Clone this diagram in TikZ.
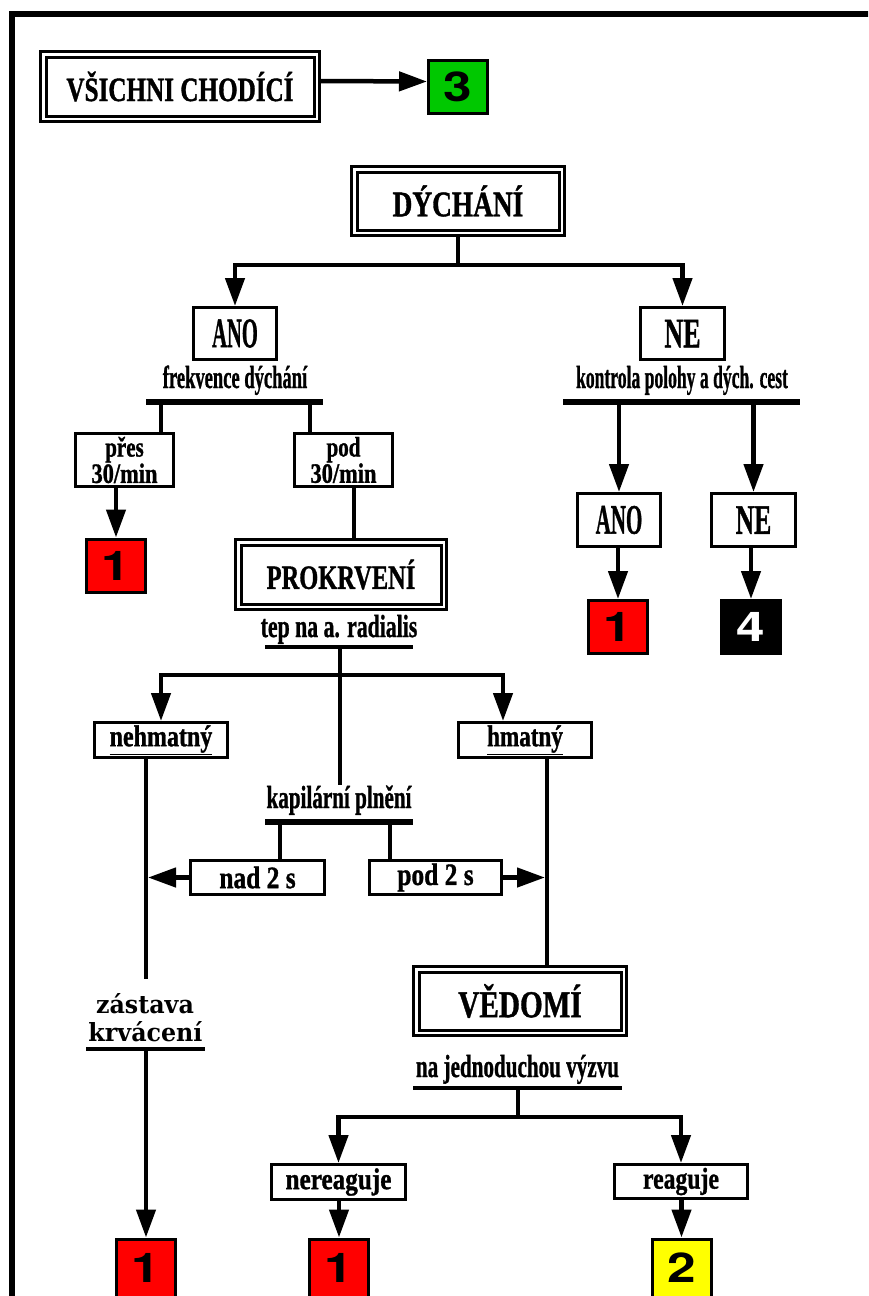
\documentclass[tikz,border=0pt]{standalone}
\usepackage{fontspec}
\setmainfont{Liberation Serif}[BoldFeatures={FakeBold=1.2}]
\newfontfamily\cislafont{TeX Gyre Heros}
\newfontfamily\widefont{DejaVu Serif}
\usetikzlibrary{arrows.meta}

\newcommand{\sq}[2]{\scalebox{#1}[1]{#2}}
\definecolor{zelena}{RGB}{0,200,0}
\definecolor{cervena}{RGB}{255,0,0}
\definecolor{zluta}{RGB}{255,255,0}

\tikzset{
  con/.style={line width=4.5pt},
  arr/.style={con,-{Triangle[length=28pt,width=19pt]}},
  bar/.style={line width=6pt},
  uline/.style={line width=4pt},
  dbox/.style={draw,line width=3pt,double distance=2.5pt,fill=white,inner sep=0pt,outer sep=4.25pt},
  box/.style={draw,line width=3pt,fill=white,inner sep=0pt},
  num/.style={draw,line width=3pt,fill=#1,inner sep=0pt,minimum width=59pt,minimum height=53pt,
    font=\cislafont\bfseries\fontsize{41}{41}\selectfont},
  lbl/.style={inner sep=0pt,font=\bfseries\fontsize{32}{34}\selectfont}
}

\begin{document}
\begin{tikzpicture}[x=1pt,y=-1pt]
\clip (0,0) rectangle (868,1296);
\fill[white] (0,0) rectangle (868,1296);
\draw[line width=6pt] (12,13.5) rectangle (930,1360);

% vsichni chodici
\node[dbox,minimum width=273.5pt,minimum height=64.5pt,font=\bfseries\fontsize{34}{36}\selectfont] (vsichni) at (180,86.5) {\sq{0.74}{VŠICHNI CHODÍCÍ}};
\node[num=zelena] (tri) at (458,87) {\sq{1.25}{3}};
\draw[arr] ([yshift=5.5pt]vsichni.east) -- ([yshift=5.5pt]tri.west);

% dychani
\node[dbox,minimum width=207.5pt,minimum height=63.5pt,font=\bfseries\fontsize{36}{38}\selectfont] (dych) at (458,201) {\sq{0.76}{DÝCHÁNÍ}};
\coordinate (rozc) at (458,265);
\node[box,minimum width=83pt,minimum height=52pt,font=\bfseries\fontsize{42}{44}\selectfont] (ano) at (235,333.5) {\sq{0.49}{ANO}};
\node[box,minimum width=84pt,minimum height=52pt,font=\bfseries\fontsize{42}{44}\selectfont] (ne) at (682.5,333.5) {\sq{0.62}{NE}};
\draw[con] (dych.south) -- (rozc);
\draw[arr] (rozc) -| (ano.north);
\draw[arr] (rozc) -| (ne.north);

% ano - frekvence
\node[lbl,anchor=base] (frekv) at (235,388) {\sq{0.58}{frekvence dýchání}};
\coordinate (f1) at (146,402);
\coordinate (f2) at (323,402);
\coordinate (fa) at (161,402);
\coordinate (fb) at (310,402);
\draw[bar] (f1) -- (f2);
\node[box,minimum width=98pt,minimum height=53pt,align=center,font=\bfseries\fontsize{28}{24}\selectfont] (pres) at (124.5,460) {\sq{0.75}{přes}\\\sq{0.8}{30/min}};
\node[box,minimum width=98pt,minimum height=53pt,align=center,font=\bfseries\fontsize{28}{24}\selectfont] (pod) at (343.5,460) {\sq{0.75}{pod}\\\sq{0.8}{30/min}};
\draw[con] (fa) -- (fa |- pres.north);
\draw[con] (fb) -- (fb |- pod.north);
\node[num=cervena] (c1) at (116,565.5) {\sq{1.25}{1}};
\draw[arr] (c1.north |- pres.south) -- (c1.north);

% ne - kontrola
\node[lbl,anchor=base] (kontr) at (682,388) {\sq{0.55}{kontrola polohy a dých. cest}};
\coordinate (k1) at (563,402);
\coordinate (k2) at (800,402);
\draw[bar] (k1) -- (k2);
\node[box,minimum width=83pt,minimum height=53pt,font=\bfseries\fontsize{42}{44}\selectfont] (ano2) at (619,520) {\sq{0.5}{ANO}};
\node[box,minimum width=84pt,minimum height=53pt,font=\bfseries\fontsize{42}{44}\selectfont] (ne2) at (753.5,520) {\sq{0.61}{NE}};
\draw[arr] (ano2.north |- k1) -- (ano2.north);
\draw[arr] (ne2.north |- k1) -- (ne2.north);
\node[num=cervena] (c2) at (618,627) {\sq{1.25}{1}};
\node[num=black,text=white] (c4) at (751,627) {\sq{1.25}{4}};
\draw[arr] (c2.north |- ano2.south) -- (c2.north);
\draw[arr] (c4.north |- ne2.south) -- (c4.north);

% prokrveni
\node[dbox,minimum width=205.5pt,minimum height=64.5pt,font=\bfseries\fontsize{34}{36}\selectfont] (prokr) at (341,574.5) {\sq{0.72}{PROKRVENÍ}};
\draw[con] ([xshift=10.5pt]pod.south) -- ([xshift=10.5pt]pod.south |- prokr.north);
\node[lbl,anchor=base] (tep) at (339,637) {\sq{0.68}{tep na a. radialis}};
\coordinate (t1) at (265,647);
\coordinate (t2) at (413,647);
\coordinate (t0) at (340,647);
\coordinate (rozc2) at (340,675);
\draw[uline] (t1) -- (t2);

\node[box,minimum width=133pt,minimum height=35pt,font=\bfseries\fontsize{30}{30}\selectfont] (nehm) at (161,740) {\sq{0.8}{\underline{nehmatný}}};
\node[box,minimum width=133pt,minimum height=35pt,font=\bfseries\fontsize{30}{30}\selectfont] (hmat) at (525,740) {\sq{0.77}{\underline{hmatný}}};
\draw[arr] (rozc2) -| (nehm.north);
\draw[arr] (rozc2) -| ([xshift=-22pt]hmat.north);

% kapilarni plneni
\node[lbl,anchor=base] (kap) at (339,808) {\sq{0.66}{kapilární plnění}};
\draw[con] (t0) -- (t0 |- kap.north);
\coordinate (p1) at (265,822);
\coordinate (p2) at (413,822);
\coordinate (pa) at (280,822);
\coordinate (pb) at (390,822);
\draw[bar] (p1) -- (p2);
\node[box,minimum width=134pt,minimum height=34pt,font=\bfseries\fontsize{31}{32}\selectfont] (nad) at (257.5,877.5) {\sq{0.82}{nad 2 s}};
\node[box,minimum width=132pt,minimum height=34pt,font=\bfseries\fontsize{31}{32}\selectfont] (pod2) at (435.5,877.5) {\sq{0.82}{pod 2 s}};
\draw[con] (pa) -- (pa |- nad.north);
\draw[con] (pb) -- (pb |- pod2.north);

% zastava krvaceni
\node[inner sep=0pt,anchor=base,font=\widefont\bfseries\fontsize{25}{26}\selectfont] (zast) at (145,1013) {\sq{0.95}{zástava}};
\node[inner sep=0pt,anchor=base,font=\widefont\bfseries\fontsize{25}{26}\selectfont] (krv) at (145.5,1041) {\sq{0.95}{krvácení}};
\coordinate (z1) at (86,1049);
\coordinate (z2) at (205,1049);
\coordinate (z0) at (146,1049);
\draw[uline] (z1) -- (z2);
\draw[con] ([xshift=-15pt]nehm.south) -- ([xshift=-15pt,yshift=14pt]nehm.south |- zast.north);
\draw[arr] (nad.west) -- ([xshift=-13pt]nad.west -| nehm.south);
\node[num=cervena,minimum height=58pt] (c5) at (146,1268) {\sq{1.25}{1}};
\draw[arr] (z0) -- (z0 |- c5.north);

% vedomi
\node[dbox,minimum width=207.5pt,minimum height=63.5pt,font=\bfseries\fontsize{38}{40}\selectfont] (vedomi) at (520,1001) {\sq{0.77}{VĚDOMÍ}};
\draw[con] ([xshift=22pt]hmat.south) -- ([xshift=22pt]hmat.south |- vedomi.north);
\draw[arr] (pod2.east) -- ([xshift=20pt]pod2.east -| hmat.south);
\node[lbl,anchor=base] (vyzva) at (517.5,1077) {\sq{0.66}{na jednoduchou výzvu}};
\coordinate (v1) at (413,1088);
\coordinate (v2) at (622,1088);
\coordinate (v0) at (518,1088);
\coordinate (rozc3) at (518,1117);
\draw[uline] (v1) -- (v2);
\draw[con] (v0) -- (rozc3);
\node[box,minimum width=134pt,minimum height=35pt,font=\bfseries\fontsize{30}{30}\selectfont] (nere) at (338.5,1182) {\sq{0.84}{nereaguje}};
\node[box,minimum width=133pt,minimum height=34pt,font=\bfseries\fontsize{30}{30}\selectfont] (reag) at (681,1181.5) {\sq{0.79}{reaguje}};
\draw[arr] (rozc3) -| (nere.north);
\draw[arr] (rozc3) -| (reag.north);
\node[num=cervena,minimum height=58pt] (c6) at (339,1268) {\sq{1.25}{1}};
\node[num=zluta,minimum height=58pt] (c7) at (681.5,1268) {\sq{1.25}{2}};
\draw[arr] (c6.north |- nere.south) -- (c6.north);
\draw[arr] (c7.north |- reag.south) -- (c7.north);
\end{tikzpicture}
\end{document}
